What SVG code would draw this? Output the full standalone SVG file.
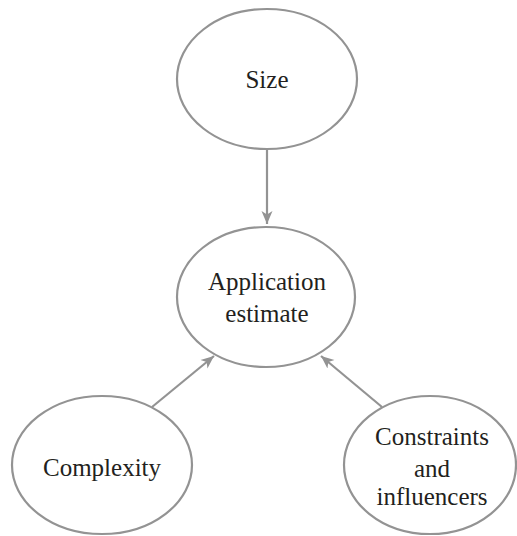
<svg xmlns="http://www.w3.org/2000/svg" width="517" height="536" viewBox="0 0 517 536">
  <style>
    .node ellipse { fill: #ffffff; stroke: #939393; stroke-width: 2.2; }
    .label { font-family: 'Liberation Serif', 'Times New Roman', 'DejaVu Serif', serif; font-size: 25px; fill: #231f20; text-anchor: middle; }
    .edge { stroke: #939393; stroke-width: 2.2; fill: none; marker-end: url(#arrow); }
  </style>
  <defs>
    <!-- notched arrowhead shared by all connectors -->
    <marker id="arrow" markerWidth="14" markerHeight="12" refX="13" refY="6" orient="auto" markerUnits="userSpaceOnUse">
      <path d="M0,0.5 L13,6 L0,11.5 L3.5,6 Z" fill="#939393"/>
    </marker>
  </defs>

  <rect width="517" height="536" fill="#ffffff"/>

  <g id="connectors">
    <line class="edge" x1="267" y1="149" x2="267" y2="224"/>
    <line class="edge" x1="152" y1="407" x2="214" y2="356"/>
    <line class="edge" x1="382" y1="407" x2="321" y2="356"/>
  </g>

  <g id="size" class="node">
    <ellipse cx="267" cy="79" rx="90" ry="70"/>
    <text class="label" x="267" y="88">Size</text>
  </g>

  <g id="application-estimate" class="node">
    <ellipse cx="266" cy="297" rx="89" ry="70"/>
    <text class="label" x="267" y="290">Application</text>
    <text class="label" x="267" y="322">estimate</text>
  </g>

  <g id="complexity" class="node">
    <ellipse cx="102" cy="465" rx="90" ry="69"/>
    <text class="label" x="102" y="476">Complexity</text>
  </g>

  <g id="constraints" class="node">
    <ellipse cx="430" cy="465" rx="86" ry="69"/>
    <text class="label" x="432" y="445">Constraints</text>
    <text class="label" x="432" y="477">and</text>
    <text class="label" x="432" y="505">influencers</text>
  </g>
</svg>
